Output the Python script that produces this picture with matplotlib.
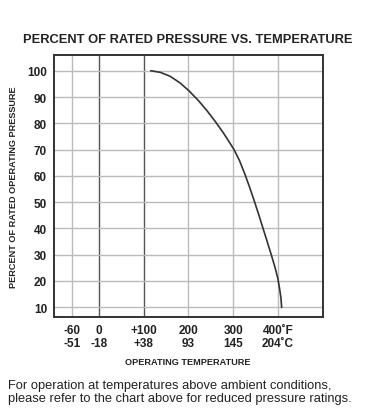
import matplotlib
matplotlib.use("Agg")
import matplotlib.pyplot as plt

# Data
temp_f = [116, 137, 159, 181, 201, 222, 241, 260, 278, 290, 302, 314, 326, 337, 347, 357, 366, 376, 386, 394, 400, 404, 407, 408.5]
pct = [100, 99.4, 97.9, 95.4, 92.4, 88.7, 84.9, 80.7, 76.4, 73.2, 70.0, 65.9, 60.8, 55.6, 50.6, 45.4, 40.5, 35.1, 29.6, 25.0, 21.0, 17.0, 13.5, 10.0]

xticks = [-60, 0, 100, 200, 300, 400]
xtick_labels = ["-60\n-51", "0\n-18", "+100\n+38", "200\n93", "300\n145", "400˚F\n204˚C"]
yticks = [10, 20, 30, 40, 50, 60, 70, 80, 90, 100]
dark_lines = [0, 100]

title = "PERCENT OF RATED PRESSURE VS. TEMPERATURE"
ylabel = "PERCENT OF RATED OPERATING PRESSURE"
xlabel = "OPERATING TEMPERATURE"
note = ("For operation at temperatures above ambient conditions,\n"
        "please refer to the chart above for reduced pressure ratings.")

fam = ["Liberation Sans", "DejaVu Sans"]
fig = plt.figure(figsize=(3.86, 4.14), dpi=100)
ax = fig.add_axes([0.1399, 0.2319, 0.6956, 0.6328])
ax.set_xlim(-101, 500)
ax.set_ylim(6.3, 106)

for t in xticks:
    c = "#555555" if t in dark_lines else "#bbbbbb"
    ax.axvline(t, color=c, lw=1.0, zorder=1)
for v in yticks:
    ax.axhline(v, color="#bbbbbb", lw=1.0, zorder=1)

ax.plot(temp_f, pct, color="#333333", lw=1.2, zorder=3, solid_joinstyle="round")

ax.set_xticks(xticks)
ax.set_xticklabels(xtick_labels, fontfamily=fam, fontweight="bold", fontsize=8.5, linespacing=1.15)
ax.set_yticks(yticks)
ax.set_yticklabels([str(v) for v in yticks], fontfamily=fam, fontweight="bold", fontsize=8.5)
ax.tick_params(length=0, pad=5, colors="#222222")
for s in ax.spines.values():
    s.set_color("#333333")
    s.set_linewidth(1.4)

fig.text(0.486, 0.903, title, ha="center", va="center", fontfamily=fam,
         fontweight="bold", fontsize=9.3, color="#222222")
fig.text(0.036, 0.547, ylabel, ha="center", va="center", rotation=90,
         fontfamily=fam, fontweight="bold", fontsize=6.6, color="#222222")
fig.text(0.487, 0.125, xlabel, ha="center", va="center",
         fontfamily=fam, fontweight="bold", fontsize=6.6, color="#222222")
fig.text(0.021, 0.052, note, ha="left", va="center", fontfamily=fam,
         fontsize=9.3, color="#222222", linespacing=1.2)

fig.savefig("out.png", dpi=100)
